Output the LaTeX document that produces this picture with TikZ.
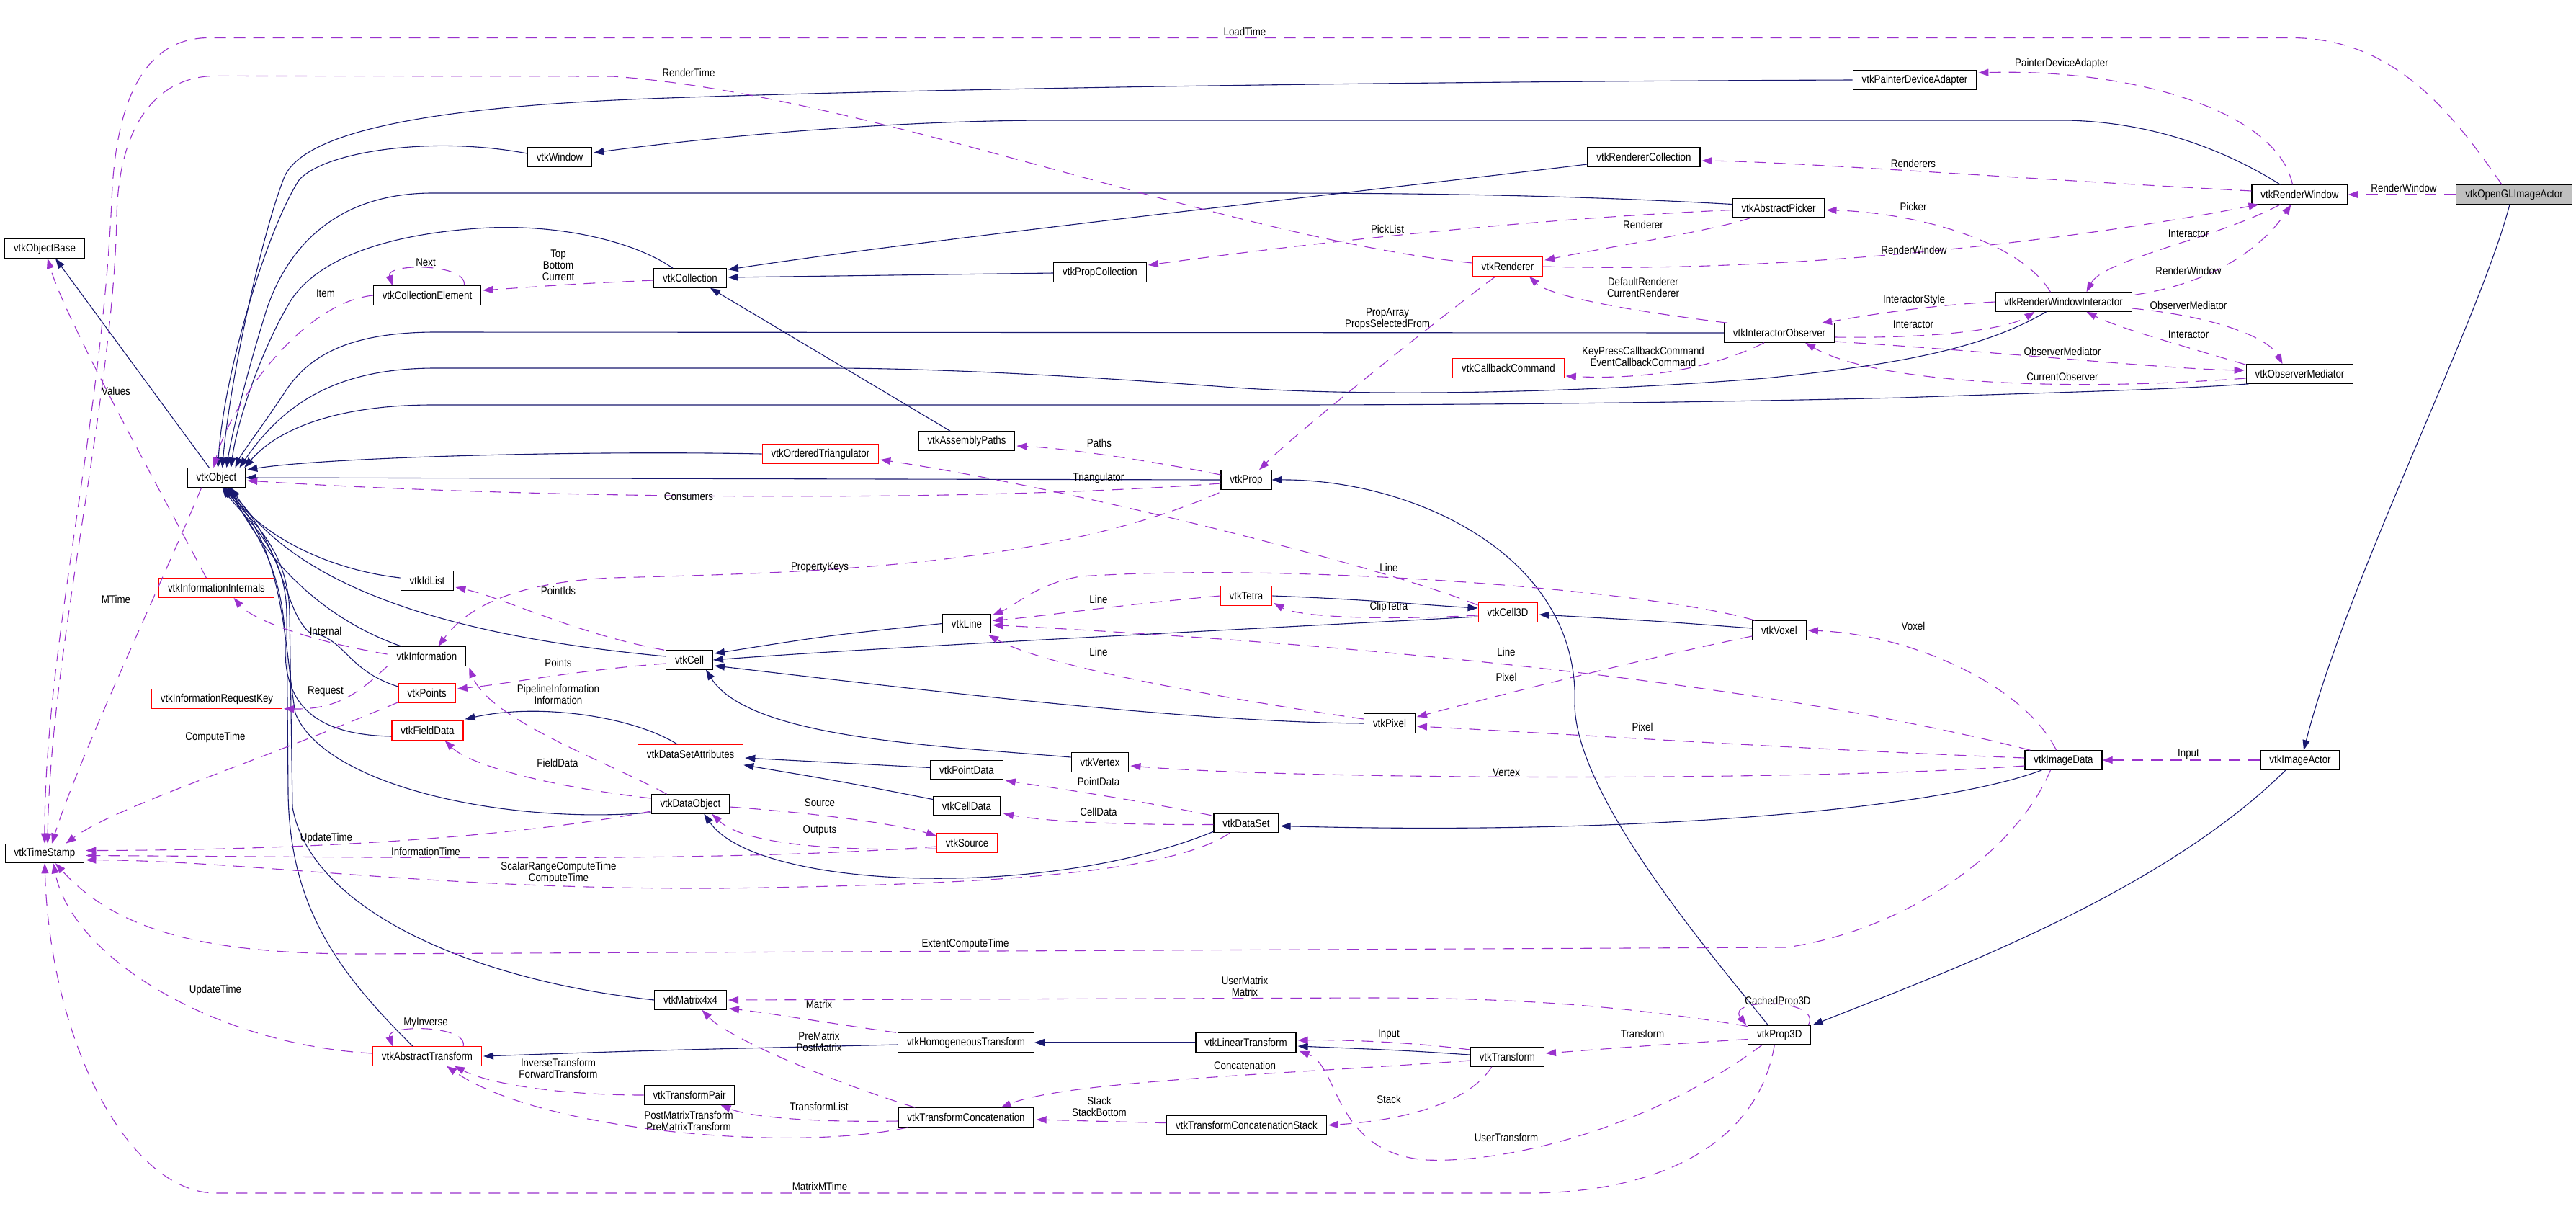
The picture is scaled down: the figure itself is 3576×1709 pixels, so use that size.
\documentclass[tikz,border=0pt]{standalone}
\usepackage{fontspec}
\setmainfont{Liberation Sans}[FakeStretch=0.86]
\usepackage{xcolor}
\usetikzlibrary{arrows.meta, calc}
\definecolor{inhblue}{RGB}{25,25,112}
\definecolor{usepurple}{RGB}{154,50,205}
\definecolor{truncred}{RGB}{255,0,0}
\definecolor{focusgray}{RGB}{191,191,191}
\newcommand{\classfont}{\fontsize{7.75}{8}\selectfont}
\tikzset{
  cls/.style={rectangle, draw=black, fill=white, line width=0.6pt,
    minimum height=13.2pt, inner xsep=6.2pt, inner ysep=0pt, font=\classfont},
  trunccls/.style={cls, draw=truncred},
  focuscls/.style={cls, fill=focusgray},
  inherit/.style={-{Triangle[length=7pt,width=5pt]}, line width=0.55pt, color=inhblue},
  member/.style={-{Triangle[length=7pt,width=5pt]}, line width=0.55pt, color=usepurple,
    dash pattern=on 8pt off 5.5pt},
  edgelabel/.style={font=\classfont, align=center, inner sep=0pt},
}

\begin{document}
\begin{tikzpicture}[x=0.5pt, y=-0.5pt]
  \path[use as bounding box, fill=white] (0,0) rectangle (3576,1709);
  % Classes
  \node[cls] (objBase) at (62,345) {vtkObjectBase};
  \node[cls] (window) at (777,218) {vtkWindow};
  \node[cls] (collElem) at (593,410) {vtkCollectionElement};
  \node[cls] (collection) at (958,386) {vtkCollection};
  \node[cls] (propColl) at (1527,378) {vtkPropCollection};
  \node[cls] (painterDA) at (2658,111) {vtkPainterDeviceAdapter};
  \node[cls] (renColl) at (2282,218) {vtkRendererCollection};
  \node[cls] (picker) at (2469,288.5) {vtkAbstractPicker};
  \node[trunccls] (renderer) at (2093,370) {vtkRenderer};
  \node[cls] (interObs) at (2470,462) {vtkInteractorObserver};
  \node[trunccls] (callback) at (2094,511) {vtkCallbackCommand};
  \node[cls] (renWin) at (3192.5,270) {vtkRenderWindow};
  \node[focuscls] (glActor) at (3490,270) {vtkOpenGLImageActor};
  \node[cls] (renWinInt) at (2864.5,419) {vtkRenderWindowInteractor};
  \node[cls] (obsMed) at (3192.5,519) {vtkObserverMediator};
  \node[cls] (object) at (300.5,663) {vtkObject};
  \node[cls] (idList) at (593,806) {vtkIdList};
  \node[trunccls] (infoInt) at (300.5,816) {vtkInformationInternals};
  \node[cls] (info) at (592.4,911) {vtkInformation};
  \node[trunccls] (points) at (592.7,962) {vtkPoints};
  \node[trunccls] (reqKey) at (301,970) {vtkInformationRequestKey};
  \node[trunccls] (fieldData) at (593.5,1014) {vtkFieldData};
  \node[cls] (asmPaths) at (1342,612) {vtkAssemblyPaths};
  \node[trunccls] (orderedTri) at (1139,630) {vtkOrderedTriangulator};
  \node[cls] (prop) at (1730,666) {vtkProp};
  \node[trunccls] (tetra) at (1730,827) {vtkTetra};
  \node[cls] (lineCell) at (1342,865.5) {vtkLine};
  \node[cls] (cell) at (957,916) {vtkCell};
  \node[trunccls] (dsAttr) at (958.6,1047) {vtkDataSetAttributes};
  \node[cls] (pointData) at (1342,1068.5) {vtkPointData};
  \node[cls] (vertex) at (1527,1058) {vtkVertex};
  \node[cls] (dataObj) at (958.4,1116) {vtkDataObject};
  \node[cls] (cellData) at (1342,1118.5) {vtkCellData};
  \node[trunccls] (cell3d) at (2093,850) {vtkCell3D};
  \node[cls] (voxel) at (2470,875) {vtkVoxel};
  \node[cls] (pixel) at (1929,1004) {vtkPixel};
  \node[cls] (imageData) at (2864.5,1055) {vtkImageData};
  \node[cls] (imageActor) at (3193,1055) {vtkImageActor};
  \node[cls] (timeStamp) at (62,1184.5) {vtkTimeStamp};
  \node[trunccls] (absTrans) at (593,1466) {vtkAbstractTransform};
  \node[cls] (dataSet) at (1730,1142.5) {vtkDataSet};
  \node[trunccls] (source) at (1342.6,1170) {vtkSource};
  \node[cls] (matrix) at (958.6,1388) {vtkMatrix4x4};
  \node[cls] (homTrans) at (1341,1447) {vtkHomogeneousTransform};
  \node[cls] (linTrans) at (1729.5,1447) {vtkLinearTransform};
  \node[cls] (transPair) at (957,1520) {vtkTransformPair};
  \node[cls] (transConc) at (1341,1551) {vtkTransformConcatenation};
  \node[cls] (transStack) at (1730.4,1561.7) {vtkTransformConcatenationStack};
  \node[cls] (xform) at (2092.4,1467) {vtkTransform};
  \node[cls] (prop3d) at (2470.3,1436.5) {vtkProp3D};

  % Inheritance
  \draw[inherit] ($(object.north)+(-10,0)$) -- ($(objBase.south)+(15,0)$);
  \draw[inherit] ($(window.west)+(0,-5)$) .. controls (600,188) and (450,210) .. (415,250)
    .. controls (370,320) and (310,520) .. ($(object.north)+(2,0)$);
  \draw[inherit] (painterDA.west) .. controls (2000,113) and (1300,122) .. (900,137)
    .. controls (560,150) and (420,190) .. (395,245)
    .. controls (365,320) and (320,520) .. ($(object.north)+(8,0)$);
  \draw[inherit] ($(picker.west)+(0,-5)$) .. controls (2200,272) and (2000,268) .. (1760,268)
    -- (600,268) .. controls (470,268) and (400,340) .. (370,430)
    .. controls (345,510) and (322,600) .. ($(object.north)+(14,0)$);
  \draw[inherit] ($(collection.north)+(-24,0)$) .. controls (880,335) and (780,312) .. (680,316)
    .. controls (560,322) and (450,350) .. (405,415)
    .. controls (365,480) and (330,580) .. ($(object.north)+(20,0)$);
  \draw[inherit] (interObs.west) -- (600,461) .. controls (490,462) and (430,490) .. (395,545)
    .. controls (365,590) and (335,630) .. ($(object.north)+(26,0)$);
  \draw[inherit] ($(renWinInt.south)+(-24,0)$) .. controls (2760,480) and (2650,505) .. (2450,525)
    .. controls (2200,545) and (1900,552) .. (1700,537)
    .. controls (1500,522) and (1300,511) .. (1150,511) -- (600,511)
    .. controls (480,512) and (400,550) .. ($(object.north)+(32,0)$);
  \draw[inherit] ($(obsMed.south west)+(4,0)$) .. controls (3000,542) and (2800,546) .. (2640,552)
    .. controls (2300,560) and (2000,562) .. (1760,562) -- (600,562)
    .. controls (480,562) and (390,590) .. ($(object.north east)+(-2,0)$);
  \draw[inherit] ($(renWin.north)+(-27,0)$) .. controls (3100,215) and (3000,170) .. (2870,167)
    -- (1450,167) .. controls (1200,168) and (950,195) .. ($(window.east)+(2,-6)$);
  \draw[inherit] ($(renColl.west)+(0,10)$) .. controls (1900,265) and (1300,330) .. ($(collection.north east)+(2,2)$);
  \draw[inherit] ($(propColl.west)+(0,1)$) -- ($(collection.east)+(2,-1)$);
  \draw[inherit] ($(asmPaths.north)+(-23,0)$) -- ($(collection.south)+(28,0)$);
  \draw[inherit] (prop.west) -- (object.east);
  \draw[inherit] (orderedTri.west) .. controls (800,625) and (450,635) .. ($(object.east)+(2,-11)$);
  \draw[inherit] ($(idList.west)+(0,-4)$) .. controls (450,790) and (360,740) .. ($(object.south)+(16,0)$);
  \draw[inherit] ($(cell.west)+(0,-5)$) .. controls (700,890) and (430,840) .. ($(object.south)+(20,0)$);
  \draw[inherit] ($(info.north west)+(20,0)$) .. controls (450,860) and (370,780) .. ($(object.south)+(18,0)$);
  \draw[inherit] ($(points.west)+(0,-9)$) .. controls (480,930) and (480,885) .. (430,878)
    .. controls (395,850) and (395,760) .. ($(object.south)+(14,0)$);
  \draw[inherit] ($(fieldData.west)+(0,8)$) .. controls (440,1020) and (395,980) .. (396,900)
    .. controls (396,790) and (350,730) .. ($(object.south)+(12,0)$);
  \draw[inherit] ($(dataObj.south west)+(0,-2)$) .. controls (700,1145) and (450,1090) .. (410,990)
    .. controls (395,900) and (395,760) .. ($(object.south)+(10,0)$);
  \draw[inherit] ($(absTrans.north)+(-20,0)$) .. controls (470,1350) and (402,1260) .. (400,1100)
    -- (398,850) .. controls (396,760) and (340,720) .. ($(object.south)+(8,0)$);
  \draw[inherit] (matrix.west) .. controls (650,1360) and (430,1260) .. (406,1120)
    -- (402,850) .. controls (400,760) and (345,720) .. ($(object.south)+(10,0)$);
  \draw[inherit] (lineCell.west) .. controls (1150,882) .. ($(cell.east)+(2,-9)$);
  \draw[inherit] ($(cell3d.west)+(0,6)$) .. controls (1600,880) and (1200,900) .. (cell.east);
  \draw[inherit] (pixel.west) .. controls (1650,1002) and (1300,960) .. ($(cell.east)+(2,8)$);
  \draw[inherit] ($(vertex.west)+(0,-7)$) .. controls (1300,1035) and (1040,1025) .. ($(cell.south)+(23,0)$);
  \draw[inherit] (tetra.east) .. controls (1900,832) and (1980,840) .. ($(cell3d.west)+(0,-6)$);
  \draw[inherit] ($(voxel.west)+(0,-3)$) .. controls (2300,862) .. ($(cell3d.east)+(2,3)$);
  \draw[inherit] ($(pointData.west)+(0,-3)$) .. controls (1150,1058) .. ($(dsAttr.east)+(2,5)$);
  \draw[inherit] ($(cellData.west)+(0,-9)$) .. controls (1170,1085) .. ($(dsAttr.south east)+(0,1)$);
  \draw[inherit] ($(dsAttr.north)+(-18,0)$) .. controls (880,995) and (750,975) .. ($(fieldData.north east)+(2,-2)$);
  \draw[inherit] ($(dataSet.south west)+(0,-2)$) .. controls (1450,1250) and (1050,1235) .. ($(dataObj.south)+(19,0)$);
  \draw[inherit] ($(imageData.south)+(-30,0)$) .. controls (2700,1120) and (2300,1160) .. ($(dataSet.east)+(2,4)$);
  \draw[inherit] ($(homTrans.west)+(0,3)$) .. controls (900,1458) .. ($(absTrans.east)+(2,0)$);
  \draw[inherit] (linTrans.west) -- (homTrans.east);
  \draw[inherit] ($(xform.west)+(0,-3)$) .. controls (1950,1458) .. ($(linTrans.east)+(2,5)$);
  \draw[inherit] ($(glActor.south)+(-6,0)$) .. controls (3440,450) and (3260,800) .. ($(imageActor.north)+(5,0)$);
  \draw[inherit] ($(imageActor.south)+(-20,0)$) .. controls (3000,1240) and (2700,1350) .. ($(prop3d.north east)+(2,0)$);
  \draw[inherit] ($(prop3d.north)+(-16,0)$) .. controls (2380,1330) and (2190,1110) .. (2186,980)
    .. controls (2195,770) and (1960,665) .. (prop.east);

  % Members
  \draw[member] ($(glActor.north)+(-17,0)$) .. controls (3400,150) and (3320,52.5) .. (3180,52.5)
    -- (290,52.5) .. controls (200,52.5) and (160,140) .. (155,280)
    .. controls (140,600) and (62,900) .. (timeStamp.north);
  \draw[member] ($(renderer.west)+(0,-5)$) .. controls (1700,330) and (1200,130) .. (850,106)
    -- (300,105.4) .. controls (220,105.4) and (165,170) .. (162,300)
    .. controls (158,550) and (70,900) .. ($(timeStamp.north)+(4,0)$);
  \draw[member] ($(object.south west)+(20,0)$) .. controls (220,820) and (110,1050) .. ($(timeStamp.north)+(10,0)$);
  \draw[member] ($(points.south west)+(0,-1)$) .. controls (350,1060) and (160,1120) .. ($(timeStamp.north east)+(-26,0)$);
  \draw[member] ($(infoInt.north)+(-14,0)$) .. controls (200,640) and (90,440) .. ($(objBase.south)+(4,0)$);
  \draw[member] ($(renWin.north)+(-10,0)$) .. controls (3160,150) and (2950,95) .. ($(painterDA.east)+(2,-10)$);
  \draw[member] ($(renWin.west)+(0,-5)$) .. controls (2800,248) and (2500,225) .. ($(renColl.east)+(2,5)$);
  \draw[member] ($(renWin.south)+(-27,0)$) .. controls (3080,330) and (2920,360) .. ($(renWinInt.north)+(32,0)$);
  \draw[member] ($(renWinInt.north east)+(4,4)$) .. controls (3090,390) and (3150,330) .. ($(renWin.south)+(-12,0)$);
  \draw[member] (renderer.east) .. controls (2500,380) and (2900,330) .. ($(renWin.south west)+(10,0)$);
  \draw[member] ($(renWinInt.north)+(-18,0)$) .. controls (2800,330) and (2650,295) .. ($(picker.east)+(2,3)$);
  \draw[member] ($(picker.south west)+(26,0)$) .. controls (2380,320) and (2220,345) .. ($(renderer.north east)+(2,5)$);
  \draw[member] ($(picker.west)+(0,3)$) .. controls (2100,305) and (1800,340) .. ($(propColl.east)+(2,-10)$);
  \draw[member] ($(interObs.north west)+(5,0)$) .. controls (2250,430) and (2150,410) .. ($(renderer.south)+(30,0)$);
  \draw[member] ($(renderer.south)+(-17,0)$) .. controls (2000,440) and (1800,600) .. ($(prop.north)+(18,0)$);
  \draw[member] ($(interObs.south)+(-21,0)$) .. controls (2390,505) and (2300,528) .. ($(callback.east)+(2,11)$);
  \draw[member] (renWinInt.west) .. controls (2660,425) and (2580,440) .. ($(interObs.north east)+(-18,0)$);
  \draw[member] ($(interObs.east)+(0,6)$) .. controls (2700,470) and (2790,455) .. ($(renWinInt.south)+(-40,0)$);
  \draw[member] ($(interObs.east)+(0,12)$) .. controls (2800,490) and (3000,512) .. ($(obsMed.west)+(-2,-5)$);
  \draw[member] ($(obsMed.west)+(0,6)$) .. controls (2850,545) and (2600,530) .. ($(interObs.south)+(36,0)$);
  \draw[member] ($(renWinInt.east)+(0,9)$) .. controls (3080,440) and (3150,470) .. ($(obsMed.north)+(-24,0)$);
  \draw[member] ($(obsMed.north west)+(0,1)$) .. controls (3030,480) and (2940,455) .. ($(renWinInt.south)+(32,0)$);
  \draw[member] (glActor.west) -- (renWin.east);
  \draw[member] ($(collection.west)+(0,3)$) .. controls (800,394) .. ($(collElem.east)+(2,-7)$);
  \draw[member] ($(collElem.north east)+(-24,0)$) .. controls (650,365) and (535,365) .. ($(collElem.north west)+(27,0)$);
  \draw[member] (collElem.west) .. controls (420,420) and (320,560) .. ($(object.north)+(-4,0)$);
  \draw[member] ($(prop.west)+(0,-7)$) .. controls (1600,640) and (1480,622) .. ($(asmPaths.east)+(2,7)$);
  \draw[member] ($(cell3d.west)+(0,-10)$) .. controls (1930,790) and (1500,680) .. ($(orderedTri.east)+(2,8)$);
  \draw[member] ($(cell3d.west)+(0,4)$) .. controls (1900,862) and (1800,855) .. ($(tetra.east)+(2,10)$);
  \draw[member] (tetra.west) .. controls (1550,840) and (1450,855) .. ($(lineCell.east)+(2,-4)$);
  \draw[member] ($(voxel.north west)+(4,0)$) .. controls (2300,820) and (1800,780) .. (1500,800)
    .. controls (1440,810) and (1410,840) .. ($(lineCell.north east)+(2,2)$);
  \draw[member] ($(imageData.north west)+(8,0)$) .. controls (2500,960) and (2000,900) .. ($(lineCell.east)+(2,2)$);
  \draw[member] ($(pixel.west)+(0,-6)$) .. controls (1700,970) and (1450,925) .. ($(lineCell.south east)+(-4,2)$);
  \draw[member] ($(voxel.west)+(0,8)$) .. controls (2300,910) and (2100,960) .. ($(pixel.east)+(2,-9)$);
  \draw[member] ($(imageData.west)+(0,-3)$) .. controls (2500,1040) and (2200,1020) .. ($(pixel.east)+(2,4)$);
  \draw[member] ($(imageData.west)+(0,8)$) .. controls (2500,1085) and (1800,1082) .. ($(vertex.east)+(2,5)$);
  \draw[member] ($(imageData.north)+(-10,0)$) .. controls (2810,950) and (2650,880) .. ($(voxel.east)+(2,0)$);
  \draw[member] (imageActor.west) -- (imageData.east);
  \draw[member] ($(imageData.south)+(-18,0)$) .. controls (2800,1180) and (2650,1290) .. (2480,1315)
    -- (500,1324) .. controls (280,1324) and (160,1290) .. ($(timeStamp.south)+(15,0)$);
  \draw[member] ($(absTrans.west)+(0,-4)$) .. controls (300,1450) and (100,1330) .. ($(timeStamp.south)+(12,0)$);
  \draw[member] ($(prop3d.south)+(-7,0)$) .. controls (2440,1590) and (2300,1656) .. (2120,1656)
    -- (300,1656) .. controls (180,1656) and (70,1450) .. (timeStamp.south);
  \draw[member] ($(dataSet.south)+(-23,0)$) .. controls (1620,1215) and (1350,1228) .. (1000,1233)
    .. controls (600,1235) and (350,1195) .. ($(timeStamp.east)+(2,9)$);
  \draw[member] ($(source.west)+(0,5)$) .. controls (1000,1197) and (600,1190) .. ($(timeStamp.east)+(2,3)$);
  \draw[member] ($(dataObj.west)+(0,10)$) .. controls (700,1165) and (400,1180) .. ($(timeStamp.east)+(2,-4)$);
  \draw[member] ($(dataObj.east)+(0,4)$) .. controls (1150,1130) and (1250,1145) .. ($(source.north west)+(0,4)$);
  \draw[member] ($(source.west)+(0,8)$) .. controls (1150,1182) and (1030,1170) .. ($(dataObj.south)+(30,0)$);
  \draw[member] ($(dataSet.north west)+(-3,3)$) .. controls (1550,1105) and (1450,1092) .. ($(pointData.south east)+(3,1)$);
  \draw[member] ($(dataSet.west)+(0,2)$) .. controls (1550,1145) and (1450,1140) .. ($(cellData.south east)+(4,-3)$);
  \draw[member] ($(dataObj.west)+(0,-8)$) .. controls (750,1090) and (650,1060) .. ($(fieldData.south)+(24,0)$);
  \draw[member] ($(dataObj.north west)+(22,0)$) .. controls (850,1060) and (680,1000) .. ($(info.south east)+(4,2)$);
  \draw[member] ($(info.west)+(0,-3)$) .. controls (430,890) and (350,860) .. ($(infoInt.south)+(24,0)$);
  \draw[member] (info.south west) .. controls (500,960) and (470,985) .. ($(reqKey.south east)+(2,0)$);
  \draw[member] ($(cell.north west)+(-2,0)$) .. controls (800,880) and (700,830) .. ($(idList.east)+(2,9)$);
  \draw[member] ($(cell.west)+(0,5)$) .. controls (800,930) and (700,950) .. ($(points.east)+(2,-6)$);
  \draw[member] ($(prop.south west)+(-2,4)$) .. controls (1450,790) and (1100,795) .. (850,802)
    .. controls (720,808) and (650,840) .. ($(info.north)+(16,0)$);
  \draw[member] ($(prop.west)+(0,5)$) .. controls (1300,700) and (700,690) .. ($(object.east)+(2,4)$);
  \draw[member] (transPair.west) .. controls (780,1520) and (680,1505) .. ($(absTrans.south)+(38,0)$);
  \draw[member] ($(transConc.south west)+(14,0)$) .. controls (1100,1600) and (750,1570) .. ($(absTrans.south)+(27,0)$);
  \draw[member] ($(transConc.west)+(0,5)$) .. controls (1120,1558) and (1040,1550) .. ($(transPair.south east)+(-20,0)$);
  \draw[member] ($(transConc.north west)+(24,0)$) .. controls (1150,1500) and (1010,1440) .. ($(matrix.south)+(16,0)$);
  \draw[member] ($(homTrans.north west)+(-2,0)$) .. controls (1150,1420) and (1060,1405) .. ($(matrix.south east)+(3,-2)$);
  \draw[member] ($(prop3d.west)+(0,-12)$) .. controls (2250,1395) and (2100,1385) .. (1900,1385) -- ($(matrix.east)+(2,0)$);
  \draw[member] ($(prop3d.north east)+(-4,0)$) .. controls (2530,1385) and (2395,1385) .. ($(prop3d.north west)+(-2,0)$);
  \draw[member] ($(prop3d.west)+(0,6)$) .. controls (2300,1450) and (2200,1458) .. ($(xform.east)+(2,-5)$);
  \draw[member] ($(xform.west)+(0,-10)$) .. controls (1950,1445) and (1850,1443) .. ($(linTrans.east)+(2,-3)$);
  \draw[member] ($(xform.west)+(0,5)$) .. controls (1800,1490) and (1480,1500) .. ($(transConc.north east)+(-46,0)$);
  \draw[member] ($(xform.south west)+(30,0)$) .. controls (2040,1530) and (1950,1555) .. ($(transStack.east)+(2,0)$);
  \draw[member] ($(transStack.west)+(0,-3)$) -- ($(transConc.east)+(3,3)$);
  \draw[member] ($(prop3d.south west)+(20,0)$) .. controls (2300,1560) and (2100,1615) .. (1980,1610)
    .. controls (1850,1600) and (1860,1480) .. ($(linTrans.south east)+(4,-2)$);
  \draw[member] ($(absTrans.north east)+(-26,0)$) .. controls (650,1422) and (535,1422) .. ($(absTrans.north west)+(28,0)$);

  % Edge labels
  \node[edgelabel] (tLoadTime) at (1728,44) {LoadTime};
  \node[edgelabel] (tRenderTime) at (956,101) {RenderTime};
  \node[edgelabel] (tPainterDA) at (2862,88) {PainterDeviceAdapter};
  \node[edgelabel] (tRenderers) at (2656,227) {Renderers};
  \node[edgelabel] (tPicker) at (2656,287) {Picker};
  \node[edgelabel] (tRenWinA) at (2657,347) {RenderWindow};
  \node[edgelabel] (tInteractorA) at (3038,324.5) {Interactor};
  \node[edgelabel] (tRenWinB) at (3038,375.5) {RenderWindow};
  \node[edgelabel] (tInterStyle) at (2657,416.5) {InteractorStyle};
  \node[edgelabel] (tInteractorB) at (2656,450.5) {Interactor};
  \node[edgelabel] (tObsMedA) at (3038,423.5) {ObserverMediator};
  \node[edgelabel] (tInteractorC) at (3038,464.6) {Interactor};
  \node[edgelabel] (tObsMedB) at (2863,487.5) {ObserverMediator};
  \node[edgelabel] (tCurObs) at (2863,522.7) {CurrentObserver};
  \node[edgelabel] (tRenWinC) at (3337,261) {RenderWindow};
  \node[edgelabel] (tPickList) at (1926,318) {PickList};
  \node[edgelabel] (tRenderer) at (2281,312) {Renderer};
  \node[edgelabel] (tDefRen) at (2281,399) {DefaultRenderer\\CurrentRenderer};
  \node[edgelabel] (tPropArray) at (1926,443) {PropArray\\PropsSelectedFrom};
  \node[edgelabel] (tCallbacks) at (2281,495) {KeyPressCallbackCommand\\EventCallbackCommand};
  \node[edgelabel] (tNext) at (591,364) {Next};
  \node[edgelabel] (tTop) at (775,368) {Top\\Bottom\\Current};
  \node[edgelabel] (tItem) at (452,407) {Item};
  \node[edgelabel] (tValues) at (161,543) {Values};
  \node[edgelabel] (tMTime) at (161,832) {MTime};
  \node[edgelabel] (tInternal) at (452,875.5) {Internal};
  \node[edgelabel] (tRequest) at (452,959.5) {Request};
  \node[edgelabel] (tComputeTime) at (299,1023.5) {ComputeTime};
  \node[edgelabel] (tPointIds) at (775,820.4) {PointIds};
  \node[edgelabel] (tPoints) at (775,919.5) {Points};
  \node[edgelabel] (tPipeInfo) at (775,963.8) {PipelineInformation\\Information};
  \node[edgelabel] (tFieldData) at (774,1058.6) {FieldData};
  \node[edgelabel] (tPaths) at (1526,614.7) {Paths};
  \node[edgelabel] (tTriang) at (1525,663.6) {Triangulator};
  \node[edgelabel] (tConsumers) at (956,688.7) {Consumers};
  \node[edgelabel] (tPropKeys) at (1138,787.5) {PropertyKeys};
  \node[edgelabel] (tLineA) at (1525,831.9) {Line};
  \node[edgelabel] (tLineB) at (1525,904.8) {Line};
  \node[edgelabel] (tPointData) at (1525,1084.5) {PointData};
  \node[edgelabel] (tSource) at (1138,1114) {Source};
  \node[edgelabel] (tCellData) at (1525,1127) {CellData};
  \node[edgelabel] (tLineC) at (1928,787.5) {Line};
  \node[edgelabel] (tClipTetra) at (1928,842.6) {ClipTetra};
  \node[edgelabel] (tLineD) at (2091,904.8) {Line};
  \node[edgelabel] (tPixelA) at (2091,939.5) {Pixel};
  \node[edgelabel] (tPixelB) at (2280,1008.7) {Pixel};
  \node[edgelabel] (tVertex) at (2091,1072.3) {Vertex};
  \node[edgelabel] (tVoxel) at (2656,868.5) {Voxel};
  \node[edgelabel] (tInputA) at (3038,1046.8) {Input};
  \node[edgelabel] (tUpdTimeA) at (453,1163.6) {UpdateTime};
  \node[edgelabel] (tInfoTime) at (591,1182.4) {InformationTime};
  \node[edgelabel] (tScalarRange) at (775.5,1211.7) {ScalarRangeComputeTime\\ComputeTime};
  \node[edgelabel] (tUpdTimeB) at (299,1374.5) {UpdateTime};
  \node[edgelabel] (tMyInverse) at (591,1419.5) {MyInverse};
  \node[edgelabel] (tInvFwd) at (775,1482.5) {InverseTransform\\ForwardTransform};
  \node[edgelabel] (tOutputs) at (1138,1152.5) {Outputs};
  \node[edgelabel] (tExtent) at (1340,1310.6) {ExtentComputeTime};
  \node[edgelabel] (tUserMatrix) at (1728,1368.5) {UserMatrix\\Matrix};
  \node[edgelabel] (tMatrix) at (1137,1394.4) {Matrix};
  \node[edgelabel] (tPrePost) at (1137,1446.3) {PreMatrix\\PostMatrix};
  \node[edgelabel] (tConcat) at (1728,1479.3) {Concatenation};
  \node[edgelabel] (tStackA) at (1526,1536.4) {Stack\\StackBottom};
  \node[edgelabel] (tTransList) at (1137,1536.2) {TransformList};
  \node[edgelabel] (tPostPre) at (956,1556.4) {PostMatrixTransform\\PreMatrixTransform};
  \node[edgelabel] (tMatrixMTime) at (1138,1647.4) {MatrixMTime};
  \node[edgelabel] (tCached) at (2468,1390.7) {CachedProp3D};
  \node[edgelabel] (tTransform) at (2280,1434.7) {Transform};
  \node[edgelabel] (tInputB) at (1928,1435.8) {Input};
  \node[edgelabel] (tStackB) at (1928,1526.2) {Stack};
  \node[edgelabel] (tUserTrans) at (2091,1579.4) {UserTransform};
\end{tikzpicture}
\end{document}
